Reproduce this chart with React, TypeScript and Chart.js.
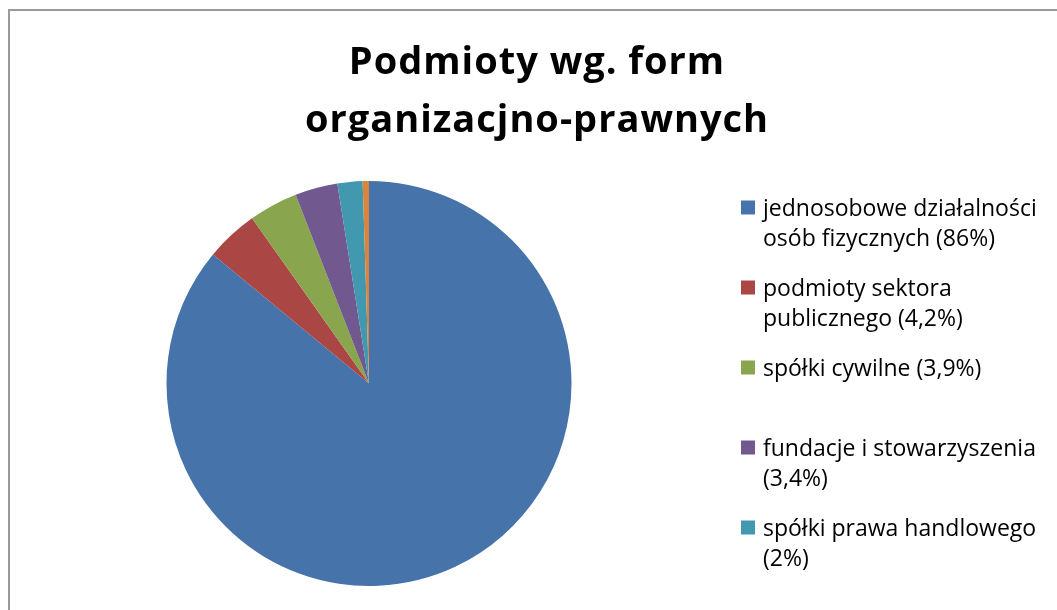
import React, { useEffect, useRef } from "react";
import { Chart, registerables } from "chart.js";

Chart.register(...registerables);

const TITLE_LINES = ["Podmioty wg. form", "organizacjno-prawnych"];
const CATEGORIES: string[][] = [
  ["jednosobowe działalności", "osób fizycznych (86%)"],
  ["podmioty sektora", "publicznego (4,2%)"],
  ["spółki cywilne (3,9%)"],
  ["fundacje i stowarzyszenia", "(3,4%)"],
  ["spółki prawa handlowego", "(2%)"],
  ["pozostałe (0,5%)"],
];
const VALUES = [86, 4.2, 3.9, 3.4, 2, 0.5];
const COLORS = ["#4673A9", "#AA4643", "#89A54E", "#71588F", "#4198AF", "#DB843D"];

const TITLE_FONT = "bold 38px 'Open Sans'";
const LEGEND_FONT = "23px 'Open Sans'";

const titlePlugin = {
  id: "customTitle",
  afterDraw(chart: any) {
    const ctx = chart.ctx;
    ctx.save();
    ctx.font = TITLE_FONT;
    (ctx as any).letterSpacing = "1px";
    ctx.fillStyle = "#000";
    ctx.textAlign = "center";
    ctx.textBaseline = "alphabetic";
    TITLE_LINES.forEach((line, i) => {
      ctx.fillText(line, 537, 74 + i * 58);
    });
    ctx.restore();
  },
};

const legendPlugin = {
  id: "customLegend",
  afterDraw(chart: any) {
    const ctx = chart.ctx;
    const labels = chart.data.labels as string[][];
    const colors = chart.data.datasets[0].backgroundColor as string[];
    ctx.save();
    ctx.font = LEGEND_FONT;
    ctx.textAlign = "left";
    ctx.textBaseline = "alphabetic";
    labels.forEach((lines, i) => {
      const base = 215.5 + i * 80;
      const boxTop = base - 15;
      if (boxTop + 14 > chart.height) return;
      ctx.fillStyle = colors[i];
      ctx.fillRect(741, boxTop, 14, 14);
      ctx.fillStyle = "#000";
      lines.forEach((t, j) => ctx.fillText(t, 763, base + j * 30));
    });
    ctx.restore();
  },
};

export default function App() {
  const ref = useRef<HTMLCanvasElement | null>(null);
  useEffect(() => {
    document.body.style.overflow = "hidden";
    const chart = new Chart(ref.current!, {
      type: "pie",
      data: {
        labels: CATEGORIES,
        datasets: [
          {
            data: VALUES,
            backgroundColor: COLORS,
            borderWidth: 0,
          },
        ],
      },
      options: {
        responsive: false,
        animation: false,
        layout: { padding: { left: 166, right: 485, top: 181, bottom: 24 } },
        plugins: {
          legend: { display: false },
          title: { display: false },
          tooltip: { enabled: false },
        },
      },
      plugins: [titlePlugin, legendPlugin],
    });
    return () => chart.destroy();
  }, []);
  return (
    <div style={{ position: "fixed", left: 0, top: 0, width: 1057, height: 610, background: "#fff" }}>
      <div
        style={{
          position: "absolute",
          left: 8,
          top: 9,
          width: 1200,
          height: 800,
          borderLeft: "2px solid #9a9a9a",
          borderTop: "2px solid #9a9a9a",
        }}
      />
      <canvas ref={ref} width={1057} height={610} style={{ position: "absolute", left: 0, top: 0 }} />
    </div>
  );
}
